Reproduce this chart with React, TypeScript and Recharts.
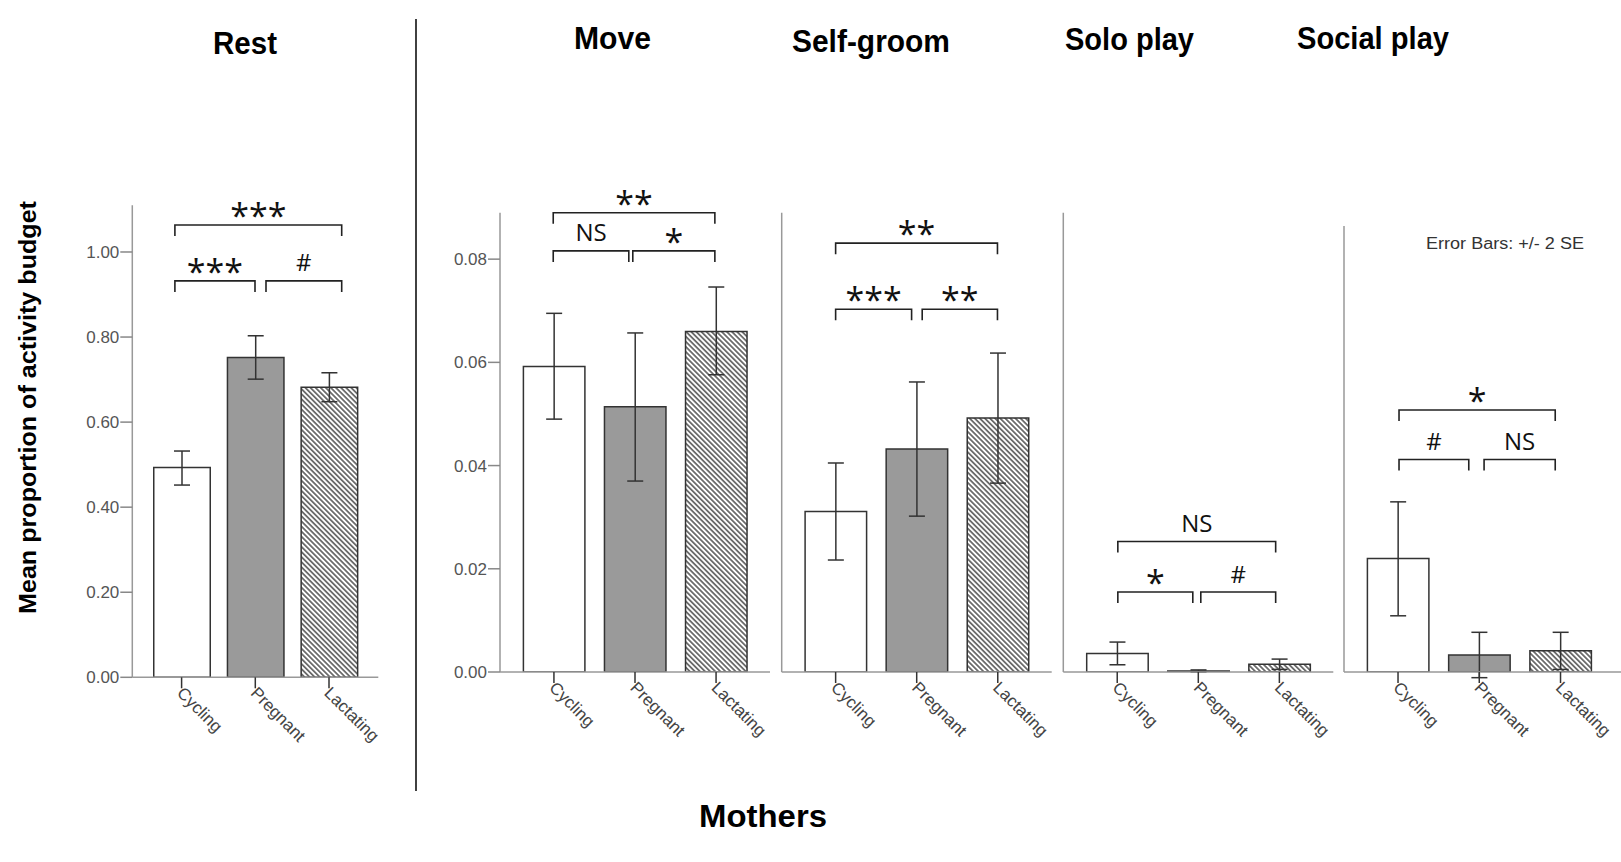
import React from 'react';
import { BarChart, Bar, XAxis, YAxis, ErrorBar, Cell, ReferenceLine } from 'recharts';

// ---------- data ----------
const categories = ['Cycling', 'Pregnant', 'Lactating'];

const restMean = [0.493, 0.752, 0.682];
const restLow = [0.452, 0.701, 0.648];
const restHigh = [0.532, 0.803, 0.716];

const moveMean = [0.0592, 0.0514, 0.066];
const moveLow = [0.049, 0.037, 0.0576];
const moveHigh = [0.0695, 0.0657, 0.0746];

const groomMean = [0.0311, 0.0432, 0.0492];
const groomLow = [0.0217, 0.0302, 0.0366];
const groomHigh = [0.0405, 0.0562, 0.0618];

const soloMean = [0.0036, 0.0002, 0.0015];
const soloLow = [0.0014, 0.0, 0.0005];
const soloHigh = [0.0058, 0.0004, 0.0025];

const socialMean = [0.022, 0.0033, 0.0041];
const socialLow = [0.0109, -0.0011, 0.0005];
const socialHigh = [0.033, 0.0077, 0.0077];

const restTicks = [0, 0.2, 0.4, 0.6, 0.8, 1.0];
const sharedTicks = [0, 0.02, 0.04, 0.06, 0.08];

const panelTitles = ['Rest', 'Move', 'Self-groom', 'Solo play', 'Social play'];
const yAxisTitle = 'Mean proportion of activity budget';
const xAxisTitle = 'Mothers';
const errorNote = 'Error Bars: +/- 2 SE';

const restBrackets = [
  { from: 'Cycling', to: 'Lactating', y: 1.0635, label: '***' },
  { from: 'Cycling', to: 'Pregnant', y: 0.932, label: '***' },
  { from: 'Pregnant', to: 'Lactating', y: 0.932, label: '#' },
];
const moveBrackets = [
  { from: 'Cycling', to: 'Lactating', y: 0.089, label: '**' },
  { from: 'Cycling', to: 'Pregnant', y: 0.0816, label: 'NS' },
  { from: 'Pregnant', to: 'Lactating', y: 0.0816, label: '*' },
];
const groomBrackets = [
  { from: 'Cycling', to: 'Lactating', y: 0.0831, label: '**' },
  { from: 'Cycling', to: 'Pregnant', y: 0.0703, label: '***' },
  { from: 'Pregnant', to: 'Lactating', y: 0.0703, label: '**' },
];
const soloBrackets = [
  { from: 'Cycling', to: 'Lactating', y: 0.0253, label: 'NS' },
  { from: 'Cycling', to: 'Pregnant', y: 0.0155, label: '*' },
  { from: 'Pregnant', to: 'Lactating', y: 0.0155, label: '#' },
];
const socialBrackets = [
  { from: 'Cycling', to: 'Lactating', y: 0.0508, label: '*' },
  { from: 'Cycling', to: 'Pregnant', y: 0.0412, label: '#' },
  { from: 'Pregnant', to: 'Lactating', y: 0.0412, label: 'NS' },
];

// ---------- helpers ----------
const makeData = (mean: number[], low: number[], high: number[]) =>
  categories.map((c, i) => ({
    name: c,
    value: mean[i],
    err: [mean[i] - low[i], high[i] - mean[i]],
  }));

const FONT = '"Liberation Sans", Arial, sans-serif';
const barFills = ['#ffffff', '#9a9a9a', 'url(#hatch)'];

type Shift = { l: number; r: number; me: number; ms: number };

const CatTick = (props: any) => {
  const { x, y, payload } = props;
  return (
    <g transform={`translate(${x},${y})`}>
      <text transform="rotate(45)" x={0} y={8} textAnchor="start" fontSize={17} fill="#444" fontFamily={FONT}>
        {payload.value}
      </text>
    </g>
  );
};

const makeBracket = (b: { from: string; to: string; label: string }, s: Shift) => (props: any) => {
  const { x1, x2, y1 } = props;
  let xa = Number(x1);
  let xb = Number(x2);
  const yy = Number(y1);
  if (b.from === 'Pregnant') xa += s.ms;
  else xa += s.l;
  if (b.to === 'Pregnant') xb += s.me;
  else xb += s.r;
  const drop = 11;
  const isStar = b.label.includes('*');
  const ty = isStar ? yy + 3 : yy - 9.5;
  return (
    <g>
      <path
        d={`M${xa},${yy + drop} L${xa},${yy} L${xb},${yy} L${xb},${yy + drop}`}
        fill="none"
        stroke="#222"
        strokeWidth={1.6}
      />
      <text
        x={(xa + xb) / 2}
        y={ty}
        textAnchor="middle"
        fontFamily='"Open Sans", sans-serif'
        fontSize={isStar ? 34 : 24}
        fill="#111"
      >
        {b.label}
      </text>
    </g>
  );
};

type PanelProps = {
  left: number;
  top: number;
  width: number;
  height: number;
  margin: { top: number; right: number; bottom: number; left: number };
  yWidth: number;
  domain: [number, number];
  ticks?: number[];
  data: any[];
  brackets: { from: string; to: string; y: number; label: string }[];
  shift: Shift;
  padLeft: number;
  padRight: number;
  barSize: number;
};

function Panel(p: PanelProps) {
  const showTicks = !!p.ticks;
  return (
    <div style={{ position: 'absolute', left: p.left, top: p.top }}>
      <BarChart width={p.width} height={p.height} data={p.data} margin={p.margin} barSize={p.barSize}>
        <XAxis
          dataKey="name"
          padding={{ left: p.padLeft, right: p.padRight }}
          axisLine={{ stroke: '#999', strokeWidth: 1.5 }}
          tickLine={{ stroke: '#333', strokeWidth: 1.5 }}
          tickSize={11}
          tickMargin={0}
          interval={0}
          height={60}
          tick={(tp: any) => <CatTick {...tp} />}
        />
        <YAxis
          width={p.yWidth}
          domain={p.domain}
          allowDataOverflow
          ticks={showTicks ? p.ticks : undefined}
          tick={showTicks ? { fill: '#555', fontSize: 17, fontFamily: FONT } : false}
          tickLine={showTicks ? { stroke: '#888', strokeWidth: 1.5 } : false}
          tickSize={12}
          tickMargin={1}
          tickFormatter={(v: number) => v.toFixed(2)}
          axisLine={{ stroke: '#999', strokeWidth: 1.5 }}
          interval={0}
        />
        <Bar dataKey="value" stroke="#333" strokeWidth={1.5} isAnimationActive={false}>
          {p.data.map((d, i) => (
            <Cell key={d.name} fill={barFills[i]} />
          ))}
          <ErrorBar dataKey="err" width={8} stroke="#333" strokeWidth={1.5} direction="y" isAnimationActive={false} />
        </Bar>
        {p.brackets.map((b, i) => (
          <ReferenceLine
            key={i}
            segment={[
              { x: b.from, y: b.y },
              { x: b.to, y: b.y },
            ]}
            ifOverflow="visible"
            shape={makeBracket(b, p.shift)}
          />
        ))}
      </BarChart>
    </div>
  );
}

export default function App() {
  const T = 150;
  const H = 650;
  return (
    <div style={{ position: 'absolute', left: 0, top: 0, width: 1621, height: 862, background: '#fff', overflow: 'hidden' }}>
      <svg width={0} height={0} style={{ position: 'absolute' }}>
        <defs>
          <pattern id="hatch" patternUnits="userSpaceOnUse" width={3.6} height={3.6} patternTransform="rotate(45)">
            <rect x={0} y={0} width={3.6} height={3.6} fill="#fff" />
            <line x1={0} y1={1.8} x2={3.6} y2={1.8} stroke="#333" strokeWidth={1.3} />
          </pattern>
        </defs>
      </svg>

      <Panel
        left={60} top={T} width={340} height={H}
        margin={{ top: 55.2, right: 21.7, bottom: 62.7, left: 12.3 }}
        yWidth={60} domain={[0, 1.11]} ticks={restTicks}
        data={makeData(restMean, restLow, restHigh)} brackets={restBrackets}
        shift={{ l: -6.7, r: 12.7, me: -0.3, ms: 10.7 }}
        padLeft={12.45} padRight={12.45} barSize={56.5}
      />
      <Panel
        left={400} top={T} width={390} height={H}
        margin={{ top: 62.7, right: 20, bottom: 68, left: 40 }}
        yWidth={60} domain={[0, 0.089]} ticks={sharedTicks}
        data={makeData(moveMean, moveLow, moveHigh)} brackets={moveBrackets}
        shift={{ l: -0.7, r: -1.2, me: -6.2, ms: -2.2 }}
        padLeft={13.4} padRight={13.4} barSize={61.5}
      />
      <Panel
        left={770} top={T} width={290} height={H}
        margin={{ top: 62.7, right: 8.3, bottom: 68, left: 10.7 }}
        yWidth={1} domain={[0, 0.089]}
        data={makeData(groomMean, groomLow, groomHigh)} brackets={groomBrackets}
        shift={{ l: 0, r: -0.3, me: -5.1, ms: 5.5 }}
        padLeft={13.4} padRight={13.4} barSize={61.5}
      />
      <Panel
        left={1052} top={T} width={290} height={H}
        margin={{ top: 62.7, right: 8.7, bottom: 68, left: 10.3 }}
        yWidth={1} domain={[0, 0.089]}
        data={makeData(soloMean, soloLow, soloHigh)} brackets={soloBrackets}
        shift={{ l: 0.6, r: -3.7, me: -5.5, ms: 2.5 }}
        padLeft={13.4} padRight={13.4} barSize={61.5}
      />
      <Panel
        left={1335} top={T} width={286} height={H}
        margin={{ top: 76, right: 0, bottom: 68, left: 8 }}
        yWidth={1} domain={[0, 0.0865]}
        data={makeData(socialMean, socialLow, socialHigh)} brackets={socialBrackets}
        shift={{ l: 1, r: -5.3, me: -10.5, ms: 4.8 }}
        padLeft={13.4} padRight={19.85} barSize={61.5}
      />

      <svg width={1621} height={862} style={{ position: 'absolute', left: 0, top: 0, pointerEvents: 'none' }}>
        <line x1={416} y1={19} x2={416} y2={791} stroke="#111" strokeWidth={1.6} />
        {[
          { x: 245, y: 43, len: 64 },
          { x: 612.5, y: 38, len: 77 },
          { x: 871, y: 41, len: 158 },
          { x: 1129.5, y: 39, len: 129 },
          { x: 1373, y: 38, len: 152 },
        ].map((t, i) => (
          <text
            key={i}
            x={t.x}
            y={t.y}
            textAnchor="middle"
            dominantBaseline="central"
            fontFamily={FONT}
            fontWeight="bold"
            fontSize={31}
            textLength={t.len}
            lengthAdjust="spacingAndGlyphs"
            fill="#000"
          >
            {panelTitles[i]}
          </text>
        ))}
        <text
          x={763}
          y={816}
          textAnchor="middle"
          dominantBaseline="central"
          fontFamily={FONT}
          fontWeight="bold"
          fontSize={32}
          textLength={128}
          lengthAdjust="spacingAndGlyphs"
          fill="#000"
        >
          {xAxisTitle}
        </text>
        <text
          transform="translate(28,407.5) rotate(-90)"
          x={0}
          y={0}
          textAnchor="middle"
          dominantBaseline="central"
          fontFamily={FONT}
          fontWeight="bold"
          fontSize={23}
          textLength={413}
          lengthAdjust="spacingAndGlyphs"
          fill="#000"
        >
          {yAxisTitle}
        </text>
        <text
          x={1426}
          y={243}
          dominantBaseline="central"
          fontFamily={FONT}
          fontSize={16}
          textLength={158}
          lengthAdjust="spacingAndGlyphs"
          fill="#333"
        >
          {errorNote}
        </text>
      </svg>
    </div>
  );
}
